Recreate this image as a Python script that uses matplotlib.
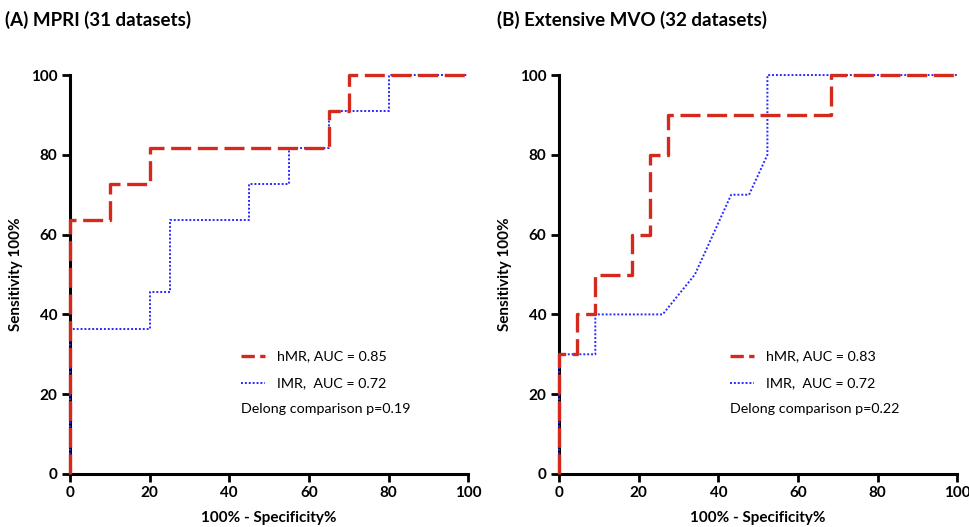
import matplotlib.pyplot as plt

# ROC curves (x = 100% - specificity, y = sensitivity)
a_hmr_x = [0, 0, 10, 10, 20, 20, 65, 65, 70, 70, 100]
a_hmr_y = [0, 63.6, 63.6, 72.7, 72.7, 81.8, 81.8, 90.9, 90.9, 100, 100]
a_imr_x = [0, 0, 20, 20, 25, 25, 45, 45, 55, 55, 65, 65, 80, 80, 100]
a_imr_y = [0, 36.4, 36.4, 45.5, 45.5, 63.6, 63.6, 72.7, 72.7, 81.8, 81.8, 90.9, 90.9, 100, 100]

b_hmr_x = [0, 0, 4.55, 4.55, 9.09, 9.09, 18.18, 18.18, 22.73, 22.73, 27.27, 27.27, 68.18, 68.18, 100]
b_hmr_y = [0, 30, 30, 40, 40, 50, 50, 60, 60, 80, 80, 90, 90, 100, 100]
b_imr_x = [0, 0, 9.09, 9.09, 26.0, 34.1, 43.2, 47.7, 52.3, 52.3, 100]
b_imr_y = [0, 30, 30, 40, 40, 50, 70, 70, 80, 100, 100]

titles = ["(A) MPRI (31 datasets)", "(B) Extensive MVO (32 datasets)"]
legend_hmr = ["hMR, AUC = 0.85", "hMR, AUC = 0.83"]
legend_imr = ["IMR,  AUC = 0.72", "IMR,  AUC = 0.72"]
delong = ["Delong comparison p=0.19", "Delong comparison p=0.22"]
ticks = [0, 20, 40, 60, 80, 100]

FONT = ["Lato", "DejaVu Sans"]
RED = "#d42a1e"
BLUE = "#2a2aff"

fig = plt.figure(figsize=(9.69, 5.27), dpi=100)
ax_a = fig.add_axes([0.0722, 0.1006, 0.411, 0.757])
ax_b = fig.add_axes([0.577, 0.1006, 0.411, 0.757])

curves = [(a_hmr_x, a_hmr_y, a_imr_x, a_imr_y), (b_hmr_x, b_hmr_y, b_imr_x, b_imr_y)]

for i, ax in enumerate([ax_a, ax_b]):
    hx, hy, ix, iy = curves[i]
    ax.plot(ix, iy, color=BLUE, lw=1.4, linestyle=(0, (1, 1)), clip_on=False, zorder=3)
    ax.plot(hx, hy, color=RED, lw=2.4, linestyle=(0, (6, 2)), clip_on=False, zorder=4)

    ax.set_xlim(0, 100)
    ax.set_ylim(0, 100)
    ax.set_xticks(ticks)
    ax.set_yticks(ticks)
    for s in ["top", "right"]:
        ax.spines[s].set_visible(False)
    for s in ["left", "bottom"]:
        ax.spines[s].set_linewidth(2.2)
    ax.tick_params(width=2.0, length=6, direction="out", pad=3)
    for lab in ax.get_xticklabels() + ax.get_yticklabels():
        lab.set_fontfamily(FONT)
        lab.set_fontweight("bold")
        lab.set_fontsize(11)

    ax.set_xlabel("100% - Specificity%", fontfamily=FONT, fontweight="bold", fontsize=11)
    ax.set_ylabel("Sensitivity 100%", fontfamily=FONT, fontweight="bold", fontsize=11)
    ax.xaxis.set_label_coords(0.5, -0.093)
    ax.yaxis.set_label_coords(-0.118, 0.5)

    # legend drawn by hand, as in the original
    ax.plot([43, 49], [29.5, 29.5], color=RED, lw=2.4, linestyle=(0, (4, 1.6)))
    ax.plot([43, 49], [22.8, 22.8], color=BLUE, lw=1.4, linestyle=(0, (1, 1)))
    ax.text(52, 29.5, legend_hmr[i], fontfamily=FONT, fontsize=10.3, va="center")
    ax.text(52, 22.8, legend_imr[i], fontfamily=FONT, fontsize=10.3, va="center")
    ax.text(43, 16.2, delong[i], fontfamily=FONT, fontsize=10.3, va="center")

fig.text(0.005, 0.962, titles[0], fontfamily=FONT, fontweight="bold", fontsize=13.5, va="center")
fig.text(0.513, 0.962, titles[1], fontfamily=FONT, fontweight="bold", fontsize=13.5, va="center")

fig.savefig("out.png", dpi=100)
